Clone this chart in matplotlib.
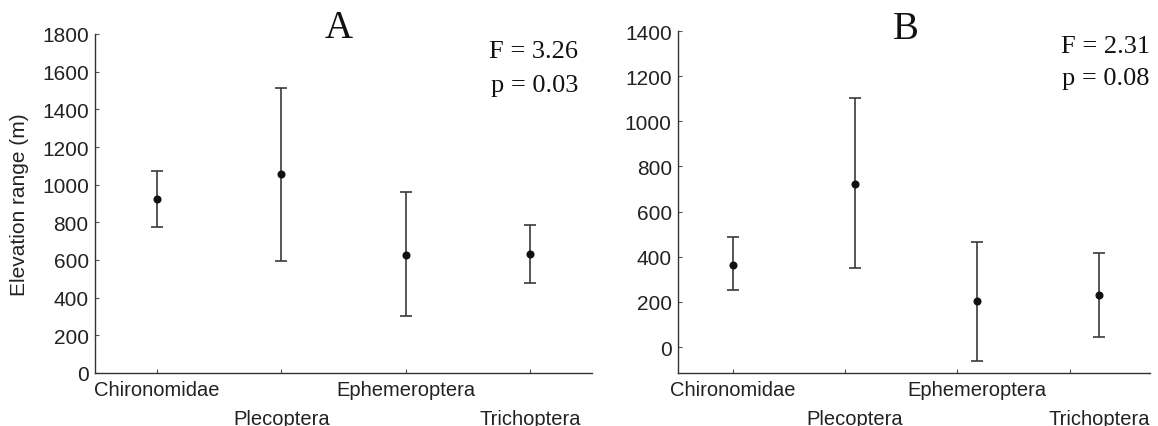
import numpy as np
import matplotlib
matplotlib.use('Agg')
import matplotlib.pyplot as plt

plt.rcParams['font.family'] = ['Liberation Sans', 'DejaVu Sans']

categories = ['Chironomidae', 'Plecoptera', 'Ephemeroptera', 'Trichoptera']

# panel A: mean and interval bounds (m)
mean_a = [925, 1058, 625, 633]
low_a = [773, 595, 302, 480]
high_a = [1070, 1515, 962, 788]

# panel B
mean_b = [365, 724, 202, 229]
low_b = [251, 352, -61, 44]
high_b = [487, 1103, 465, 418]

stats_a = ['F = 3.26', 'p = 0.03']
stats_b = ['F = 2.31', 'p = 0.08']

W, H = 1158, 427
fig = plt.figure(figsize=(W / 100, H / 100), dpi=100)
ax_a = fig.add_axes([95 / W, 1 - 374 / H, 497 / W, 339 / H])
ax_b = fig.add_axes([678 / W, 1 - 374 / H, 472 / W, 342 / H])


def draw_panel(ax, pos, mean, low, high, ylim, yticks):
    mean = np.array(mean, dtype=float)
    yerr = [mean - np.array(low), np.array(high) - mean]
    ax.errorbar(pos, mean, yerr=yerr, fmt='o', color='#111111', ecolor='#3a3a3a',
                elinewidth=1.2, capsize=4.5, capthick=1.2, markersize=4.8)
    ax.set_ylim(*ylim)
    ax.set_yticks(yticks)
    ax.set_xticks(np.arange(len(categories)))
    ax.set_xticklabels([])
    for side in ['top', 'right']:
        ax.spines[side].set_visible(False)
    for side in ['left', 'bottom']:
        ax.spines[side].set_color('#333333')
        ax.spines[side].set_linewidth(1.0)
    ax.tick_params(axis='both', direction='in', length=3, width=0.8,
                   color='#555555', labelsize=15, labelcolor='#222222', pad=4.5)
    for i, name in enumerate(categories):
        off = -5 if i % 2 == 0 else -26
        ax.annotate(name, xy=(pos[i], 0), xycoords=('data', 'axes fraction'),
                    xytext=(0, off), textcoords='offset points',
                    ha='center', va='top', fontsize=14.5, color='#222222',
                    annotation_clip=False)


def add_labels(ax, letter, letter_x, letter_y, stats, xr, y1, y2):
    # y positions are axes fractions of the text baselines
    ax.text(letter_x, letter_y, letter, transform=ax.transAxes, ha='center',
            va='baseline', fontsize=28, family='Liberation Serif', color='#111111')
    ax.text(xr, y1, stats[0], transform=ax.transAxes, ha='right', va='baseline',
            fontsize=19, family='Liberation Serif', color='#111111')
    ax.text(xr, y2, stats[1], transform=ax.transAxes, ha='right', va='baseline',
            fontsize=19, family='Liberation Serif', color='#111111')


draw_panel(ax_a, np.arange(4), mean_a, low_a, high_a,
           (0, 1800), np.arange(0, 1801, 200))
ax_a.set_xlim(-0.5, 3.5)
ax_a.set_ylabel('Elevation range (m)', fontsize=15, color='#222222', labelpad=9)
add_labels(ax_a, 'A', 0.49, 0.991, stats_a, 0.972,
           (374 - 58) / 339, (374 - 92) / 339)

draw_panel(ax_b, np.arange(4) * 1.087, mean_b, low_b, high_b,
           (-115, 1400), np.arange(0, 1401, 200))
ax_b.set_xlim(-0.485, 3.715)
add_labels(ax_b, 'B', 0.483, 0.98, stats_b, 1.0,
           (374 - 53) / 342, (374 - 85) / 342)

fig.savefig('out.png', dpi=100)
